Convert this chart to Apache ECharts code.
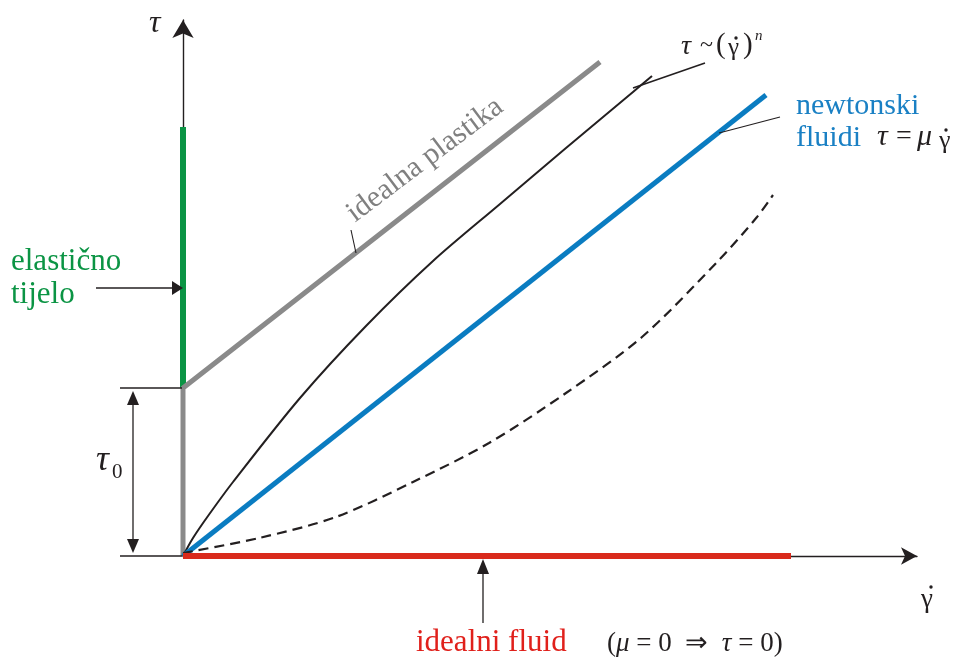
<!DOCTYPE html>
<html>
<head>
<meta charset="utf-8">
<script src="https://cdn.jsdelivr.net/npm/echarts@6/dist/echarts.min.js"></script>
<style>html,body{margin:0;padding:0;background:#fff}#c{width:958px;height:658px}</style>
</head>
<body>
<div id="c"></div>
<script>
// Conceptual rheology diagram: shear rate (x) vs shear stress (y), arbitrary units
var elasticX = [0, 0];
var elasticY = [168, 429];
var plasticX = [0, 0, 417];
var plasticY = [0, 168, 494];
var powerX = [0, 10, 25, 50, 117, 183, 250, 317, 383, 450, 469];
var powerY = [0, 18, 40, 74, 158, 230, 295, 352, 408, 464, 480];
var newtonX = [0, 583];
var newtonY = [0, 461];
var thickX = [0, 76, 153, 230, 306, 383, 459, 536, 574, 590];
var thickY = [3, 18, 39, 74, 113, 163, 219, 296, 339, 361];
var idealX = [0, 608];
var idealY = [0, 0];

function pairs(xs, ys) { return xs.map(function (x, i) { return [x, ys[i]]; }); }

var SERIF = 'Liberation Serif';
var BLACK = '#231f20';

function txt(x, y, s, size, color, opts) {
  opts = opts || {};
  var st = {
    text: s, fill: color, fontFamily: SERIF, fontSize: size,
    align: opts.align || 'left', verticalAlign: 'middle'
  };
  if (opts.italic) st.fontStyle = 'italic';
  if (opts.rich) st.rich = opts.rich;
  return { type: 'text', x: x, y: y, rotation: opts.rotation || 0, z: 100, style: st };
}
function line(x1, y1, x2, y2, w) {
  return { type: 'line', z: 100, shape: { x1: x1, y1: y1, x2: x2, y2: y2 }, style: { stroke: BLACK, lineWidth: w || 1.3 } };
}
function tri(points) {
  return { type: 'polygon', z: 100, shape: { points: points }, style: { fill: BLACK } };
}
function dot(x, y) {
  return { type: 'circle', z: 100, shape: { cx: x, cy: y, r: 1.7 }, style: { fill: BLACK } };
}

var chart = echarts.init(document.getElementById('c'), null, { renderer: 'canvas' });

var axisCommon = {
  type: 'value', min: 0,
  axisTick: { show: false }, axisLabel: { show: false }, splitLine: { show: false }
};

var graphics = [
  // y-axis label
  txt(149, 24, 'τ', 32, BLACK, { italic: true }),
  // x-axis label  γ̇
  txt(921, 600, 'γ', 27, BLACK),
  dot(931, 587),
  // elastic body
  txt(11, 262, 'elastično', 31, '#0b9444'),
  txt(11, 295, 'tijelo', 31, '#0b9444'),
  line(96, 288, 174, 288),
  tri([[172, 281], [183, 288], [172, 295]]),
  // tau0 dimension
  line(120, 388, 182, 388),
  line(120, 556, 182, 556),
  line(133, 400, 133, 545),
  tri([[133, 391], [127, 405], [139, 405]]),
  tri([[133, 553], [127, 539], [139, 539]]),
  txt(96, 461, 'τ', 36, BLACK, { italic: true }),
  txt(112, 472, '0', 21, BLACK),
  // ideal plastic
  txt(425, 160, 'idealna plastika', 30, '#808080', { align: 'center', rotation: 37 * Math.PI / 180 }),
  line(351, 230, 356, 253, 1.1),
  // power law
  line(633, 88, 705, 63, 1.6),
  txt(681, 47, 'τ', 28, BLACK, { italic: true }),
  txt(700, 46, '~', 24, BLACK),
  txt(716, 45, '(', 29, BLACK),
  txt(728, 48, 'γ', 25, BLACK),
  dot(736, 38),
  txt(743, 45, ')', 29, BLACK),
  txt(755, 36, 'n', 15, BLACK, { italic: true }),
  // newtonian
  txt(796, 106, 'newtonski', 30, '#1a80c4'),
  txt(796, 138, 'fluidi', 30, '#1a80c4'),
  line(719, 133, 780, 117, 1.1),
  txt(877, 137, 'τ', 30, BLACK, { italic: true }),
  txt(896, 137, '=', 28, BLACK),
  txt(917, 137, 'μ', 30, BLACK, { italic: true }),
  txt(939, 141, 'γ', 26, BLACK),
  dot(946, 130),
  // ideal fluid
  line(483, 572, 483, 623),
  tri([[483, 559], [477, 574], [489, 574]]),
  txt(416, 643, 'idealni fluid', 31, '#e0201b'),
  txt(607, 644, '{n|(}{i|μ}{n| = 0  ⇒  }{i|τ}{n| = 0)}', 27, BLACK, {
    rich: {
      i: { fontStyle: 'italic', fontFamily: SERIF, fontSize: 27, fill: BLACK },
      n: { fontFamily: SERIF, fontSize: 27, fill: BLACK }
    }
  })
];

chart.setOption({
  animation: false,
  backgroundColor: '#fff',
  grid: { left: 183, top: 20, width: 734, height: 536 },
  xAxis: Object.assign({}, axisCommon, { max: 734,
    axisLine: { show: true, lineStyle: { color: BLACK, width: 1.4 }, symbol: ['none', 'arrow'], symbolSize: [13, 16] } }),
  yAxis: Object.assign({}, axisCommon, { max: 536,
    axisLine: { show: true, lineStyle: { color: BLACK, width: 1.4 }, symbol: ['none', 'arrow'], symbolSize: [16, 18] } }),
  series: [
    { name: 'elastično tijelo', type: 'line', data: pairs(elasticX, elasticY), showSymbol: false, lineStyle: { color: '#0b9444', width: 6 }, z: 3 },
    { name: 'idealna plastika', type: 'line', data: pairs(plasticX, plasticY), showSymbol: false, lineStyle: { color: '#8a8a8a', width: 5 }, z: 4 },
    { name: 'τ ~ (γ̇)^n', type: 'line', data: pairs(powerX, powerY), smooth: 0.3, showSymbol: false, lineStyle: { color: BLACK, width: 2 }, z: 5 },
    { name: 'newtonski fluidi', type: 'line', data: pairs(newtonX, newtonY), showSymbol: false, lineStyle: { color: '#0a7cc1', width: 5 }, z: 5 },
    { name: 'dilatantni', type: 'line', data: pairs(thickX, thickY), smooth: 0.3, showSymbol: false, lineStyle: { color: BLACK, width: 2.2, type: [10, 6] }, z: 5 },
    { name: 'idealni fluid', type: 'line', data: pairs(idealX, idealY), showSymbol: false, lineStyle: { color: '#d92a1c', width: 6 }, z: 6 }
  ],
  graphic: graphics
});
</script>
</body>
</html>
